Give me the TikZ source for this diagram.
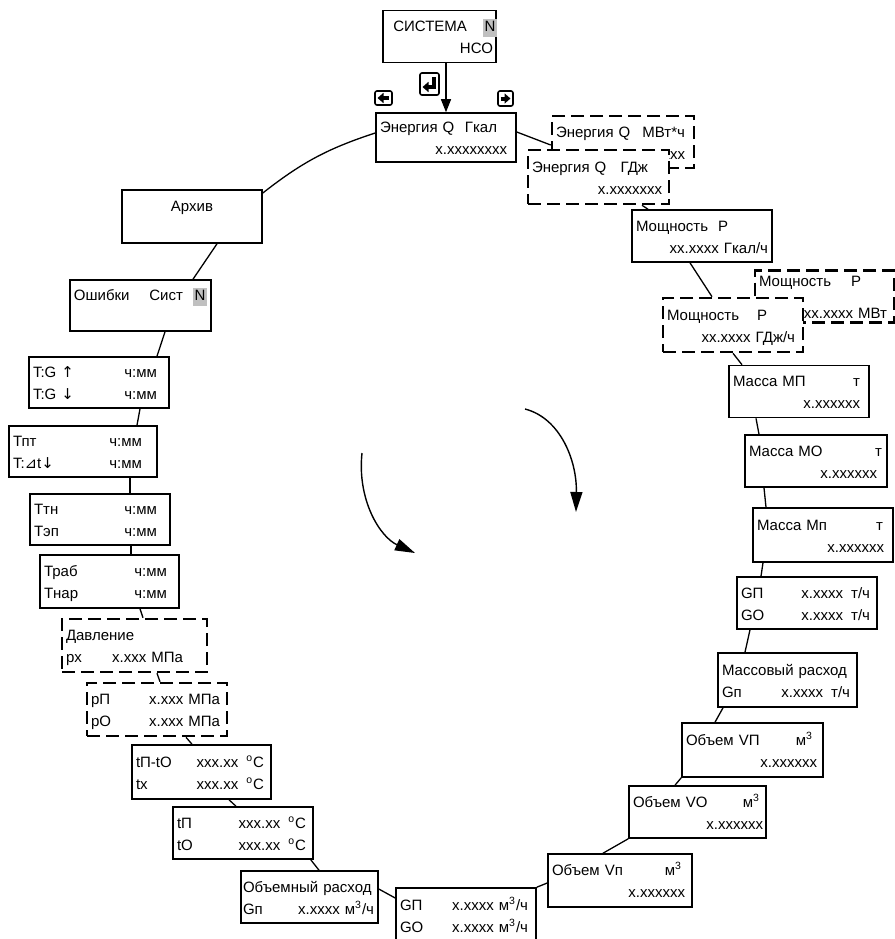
\documentclass[tikz,border=0pt]{standalone}
\usepackage{fontspec}
\setmainfont{Liberation Sans}
\newfontfamily\dejavu{DejaVu Sans}
\usepackage{xcolor}
\usetikzlibrary{arrows.meta}
\definecolor{Mark_Gray}{RGB}{192,192,192}

\newcommand{\dispfont}{\fontsize{7.5}{11}\selectfont}
\newcommand{\dstrut}{\rule[-1.6pt]{0pt}{9.6pt}}
\newcommand{\lrow}[3]{\dstrut\mbox{#1}\hfill\mbox{#2}\hspace*{#3}\null}
\newcommand{\hlN}{\smash{\setlength{\fboxsep}{0pt}\colorbox{Mark_Gray}{\rule[-2.5pt]{0pt}{9pt}\kern0.8pt N\kern0.8pt}}}
\newcommand{\degC}{\textsuperscript{o}C}
\newcommand{\mcub}{м\textsuperscript{3}}

\begin{document}
\begin{tikzpicture}[
    x=0.5pt, y=-0.5pt,
    disp/.style={rectangle, draw, line width=0.8pt, fill=white,
                 text width=#1, minimum height=26pt, inner xsep=2pt, inner ysep=0pt,
                 align=left, font=\dispfont},
    disp/.default=66pt,
    dispopt/.style={disp=#1, dash pattern=on 6.5pt off 3pt, line width=1.3pt},
    dispopt/.default=66pt,
    link/.style={line width=0.65pt},
    arrow/.style={-{Triangle[length=6.5pt,width=5pt]}, line width=0.65pt},
    turn/.style={-{Triangle[length=10pt,width=6pt]}, line width=0.7pt},
    key/.style={draw, line width=0.8pt, rounded corners=1pt, inner sep=0pt},
    keyarrow/.style={-{Triangle[length=3pt,width=5pt]}, line width=2pt}
]
\useasboundingbox (0,0) rectangle (895,939);
\clip (0,0) rectangle (895,939);

\node[disp=52.5pt] (sys) at (439.5,36.5) {\lrow{}{СИСТЕМА\hspace{8pt}\hlN}{-2.5pt}\\\lrow{}{НСО}{-0.5pt}};

\node[key, minimum width=8.5pt, minimum height=7pt] (kLeft) at (383.5,98) {};
\node[key, minimum width=9.5pt, minimum height=11pt] (kEnter) at (429.5,84) {};
\node[key, minimum width=7.5pt, minimum height=7.5pt] (kRight) at (505.5,98.5) {};
\draw[keyarrow] ([shift={(5,0)}]kLeft.center) -- ([shift={(-6,0)}]kLeft.center);
\draw[keyarrow] ([shift={(-5,0)}]kRight.center) -- ([shift={(5,0)}]kRight.center);
\draw[keyarrow] ([shift={(4,-7)}]kEnter.center) -- ([shift={(4,3)}]kEnter.center) -- ([shift={(-7,3)}]kEnter.center);

\node[disp, minimum height=24.5pt] (eQ) at (446,137.5) {\lrow{Энергия Q}{Гкал}{7.5pt}\\\lrow{}{x.xxxxxxxx}{2.5pt}};
\node[dispopt=67pt] (eM) at (623,142) {\lrow{Энергия Q}{МВт*ч}{2.5pt}\\\lrow{}{x.xxxxxxxx}{2.5pt}};
\node[dispopt=66.5pt, minimum height=27pt] (eG) at (598.5,177) {\lrow{Энергия Q}{ГДж}{8.5pt}\\\lrow{}{x.xxxxxxx}{1.5pt}};

\node[disp] (pG) at (702,236) {\lrow{Мощность\hspace{5pt}P}{}{0pt}\\\lrow{}{xx.xxxx Гкал/ч}{0pt}};
\node[dispopt=65.5pt] (pM) at (824.5,296.5) {\lrow{Мощность\hspace{10pt}P}{}{0pt}\\[5pt]\lrow{}{xx.xxxx МВт}{1.5pt}};
\node[dispopt, minimum height=27pt] (pD) at (733,325) {\lrow{Мощность\hspace{9pt}P}{}{0pt}\\\lrow{}{xx.xxxx ГДж/ч}{2pt}};

\node[disp] (mP) at (799,391.5) {\lrow{Масса МП}{т}{2.5pt}\\\lrow{}{x.xxxxxx}{2.5pt}};
\node[disp=67pt] (mO) at (816,461) {\lrow{Масса МО}{т}{0.5pt}\\\lrow{}{x.xxxxxx}{3pt}};
\node[disp, minimum height=27pt] (mn) at (823,535) {\lrow{Масса Мп}{т}{3pt}\\\lrow{}{x.xxxxxx}{2.5pt}};
\node[disp] (gm) at (807,603) {\lrow{GП}{x.xxxx\hspace{4pt}т/ч}{1.5pt}\\\lrow{GO}{x.xxxx\hspace{4pt}т/ч}{1.5pt}};
\node[disp=65.5pt, minimum height=27pt] (mr) at (787.5,680) {\lrow{Массовый расход}{}{0pt}\\\lrow{Gп}{x.xxxx\hspace{4pt}т/ч}{1.5pt}};

\node[disp=66.5pt, minimum height=27pt] (vP) at (752.5,750) {\lrow{Объем VП}{\mcub}{3pt}\\\lrow{}{x.xxxxxx}{1pt}};
\node[disp=64.5pt] (vO) at (697.5,812) {\lrow{Объем VO}{\mcub}{1pt}\\\lrow{}{x.xxxxxx}{-0.5pt}};
\node[disp=68pt, minimum height=26.5pt] (vn) at (620,880.5) {\lrow{Объем Vп}{\mcub}{3pt}\\\lrow{}{x.xxxxxx}{1.5pt}};
\node[disp, minimum height=27pt] (gv) at (466,915) {\lrow{GП}{x.xxxx \mcub/ч}{2pt}\\\lrow{GO}{x.xxxx \mcub/ч}{2pt}};
\node[disp=66.5pt, inner xsep=1pt] (or) at (309.5,897) {\lrow{Объемный расход}{}{0pt}\\\lrow{Gп}{x.xxxx \mcub/ч}{1pt}};

\node[disp] (tt) at (243,833) {\lrow{tП}{xxx.xx\hspace{4pt}\degC}{1.5pt}\\\lrow{tO}{xxx.xx\hspace{4pt}\degC}{1.5pt}};
\node[disp=65.5pt, minimum height=27pt] (td) at (201.5,772) {\lrow{tП-tO}{xxx.xx\hspace{4pt}\degC}{1.5pt}\\\lrow{tx}{xxx.xx\hspace{4pt}\degC}{1.5pt}};
\node[dispopt, minimum height=26.5pt] (pp) at (157,709.5) {\lrow{pП}{x.xxx МПа}{1.5pt}\\\lrow{pO}{x.xxx МПа}{1.5pt}};
\node[dispopt=68.5pt, minimum height=26.5pt] (dv) at (134.5,645.5) {\lrow{Давление}{}{0pt}\\\lrow{px}{x.xxx МПа}{10pt}};

\node[disp=65.5pt, minimum height=26.5pt] (trab) at (109.5,581.5) {\lrow{Траб}{ч:мм}{4pt}\\\lrow{Тнар}{ч:мм}{4pt}};
\node[disp, minimum height=25.5pt] (ttn) at (100,519.5) {\lrow{Ттн}{ч:мм}{4.5pt}\\\lrow{Тэп}{ч:мм}{4.5pt}};
\node[disp=70pt, minimum height=25.5pt] (tpt) at (83,451.5) {\lrow{Тпт}{ч:мм}{5.5pt}\\\lrow{T:{\dejavu ⊿}t{\dejavu ↓}}{ч:мм}{5.5pt}};
\node[disp, minimum height=25.5pt] (tg) at (99,382.5) {\lrow{T:G {\dejavu ↑}}{ч:мм}{4pt}\\\lrow{T:G {\dejavu ↓}}{ч:мм}{4pt}};
\node[disp=66.5pt, minimum height=25.5pt] (err) at (140.5,305.5) {\lrow{Ошибки}{Сист\hspace{5pt}\hlN}{0pt}\\\dstrut};
\node[disp, minimum height=26.5pt] (arch) at (192,216.5) {\dstrut\hfill Архив\hfill\null\\\dstrut};

\draw[arrow] (sys.south -| eQ.north) -- (eQ.north);
\draw[link] ([shift={(0,-5.5)}]eQ.east) -- ([shift={(0,3)}]eM.west);
\draw[link] ([shift={(43.5,0)}]eG.south) -- ([shift={(-54,0)}]pG.north);
\draw[link] ([shift={(-12,0)}]pG.south) -- ([shift={(-21,0)}]pD.north);
\draw[link] (pD.south) -- ([shift={(-57,0)}]mP.north);
\draw[link] ([shift={(-43,0)}]mP.south) -- ([shift={(-57,0)}]mO.north);
\draw[link] ([shift={(-52,0)}]mO.south) -- ([shift={(-57,0)}]mn.north);
\draw[link] ([shift={(-60,0)}]mn.south) -- ([shift={(-46,0)}]gm.north);
\draw[link] ([shift={(-57,0)}]gm.south) -- ([shift={(-42.5,0)}]mr.north);
\draw[link] ([shift={(-64.5,0)}]mr.south) -- ([shift={(-37.5,0)}]vP.north);
\draw[link] (vP.south west) -- ([shift={(-22.5,0)}]vO.north);
\draw[link] (vO.south west) -- ([shift={(-17,0)}]vn.north);
\draw[link] ([shift={(0,2.5)}]vn.west) -- (gv.north east);
\draw[link] ([shift={(0,-17)}]gv.west) -- ([shift={(0,-8)}]or.east);
\draw[link] ([shift={(9.5,0)}]or.north) -- ([shift={(-3,0)}]tt.south east);
\draw[link] ([shift={(-7,0)}]tt.north) -- ([shift={(27.5,0)}]td.south);
\draw[link] ([shift={(-9.5,0)}]td.north) -- ([shift={(29,0)}]pp.south);
\draw[link] ([shift={(3,0)}]pp.north) -- ([shift={(22.5,0)}]dv.south);
\draw[link] ([shift={(8.5,0)}]dv.north) -- ([shift={(30.5,0)}]trab.south);
\draw[link] ([shift={(21.5,0)}]trab.north) -- ([shift={(31,0)}]ttn.south);
\draw[link] ([shift={(30,0)}]ttn.north) -- ([shift={(47,0)}]tpt.south);
\draw[link] ([shift={(54,0)}]tpt.north) -- ([shift={(41,0)}]tg.south);
\draw[link] ([shift={(58,0)}]tg.north) -- ([shift={(24.5,0)}]err.south);
\draw[link] ([shift={(52.5,0)}]err.north) -- ([shift={(25,0)}]arch.south);
\draw[link] ([shift={(0,-23.5)}]arch.east) to[bend left=10] ([shift={(0,-4.5)}]eQ.west);

\coordinate (turnR) at (525,409);
\coordinate (turnRend) at (576,512);
\coordinate (turnL) at (362,453);
\coordinate (turnLend) at (415,553);
\draw[turn] (turnR) .. controls (560,418) and (577,460) .. (turnRend);
\draw[turn] (turnL) .. controls (357,500) and (380,537) .. (turnLend);

\end{tikzpicture}
\end{document}
